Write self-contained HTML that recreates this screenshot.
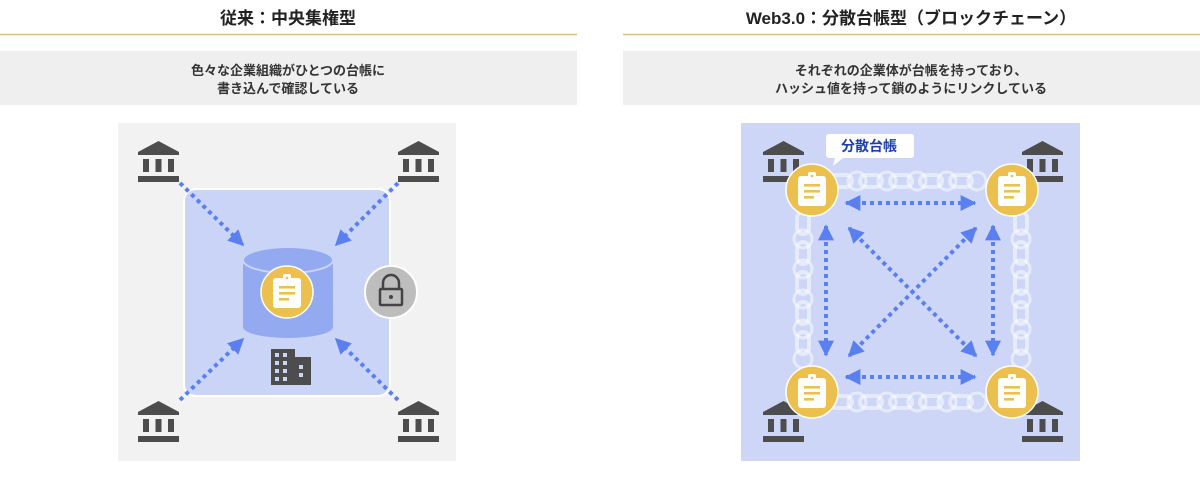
<!DOCTYPE html>
<html><head><meta charset="utf-8"><style>
html,body{margin:0;padding:0;background:#fff;}
body{width:1200px;height:482px;overflow:hidden;font-family:"Liberation Sans","Noto Sans CJK JP",sans-serif;}
</style></head><body>
<svg width="1200" height="482" viewBox="0 0 1200 482" xmlns="http://www.w3.org/2000/svg" font-family="Liberation Sans, Noto Sans CJK JP, sans-serif">
<defs>
<g id="bank">
<polygon points="20.5,0 41,11 41,14 0,14 0,11" fill="#4d4d4d"/>
<rect x="5" y="18" width="6" height="13" fill="#4d4d4d"/>
<rect x="17.5" y="18" width="6" height="13" fill="#4d4d4d"/>
<rect x="30" y="18" width="6" height="13" fill="#4d4d4d"/>
<rect x="0" y="35" width="41" height="6" fill="#4d4d4d"/>
</g>
<g id="doc">
<circle r="26" fill="#ebc04f" stroke="#fff" stroke-width="1.5"/>
<rect x="-14" y="-14" width="28" height="30" rx="3" fill="#fff"/>
<rect x="-4" y="-18" width="8" height="6" rx="2" fill="#fff"/>
<circle cx="0" cy="-14" r="1.3" fill="#ebc04f"/>
<rect x="-8" y="-6" width="16" height="2.6" fill="#ebc04f"/>
<rect x="-8" y="0" width="16" height="2.6" fill="#ebc04f"/>
<rect x="-8" y="6" width="10" height="2.6" fill="#ebc04f"/>
</g>
<marker id="ah" viewBox="0 0 10 10" refX="9" refY="5" markerWidth="4" markerHeight="4" orient="auto-start-reverse"><path d="M0,0 L10,5 L0,10 z" fill="#5a7ff0"/></marker>
<g id="link"><rect x="0" y="-6" width="22" height="12" rx="6" fill="none" stroke="#fff" stroke-opacity="0.5" stroke-width="4"/><circle cx="27" cy="0" r="9" fill="none" stroke="#fff" stroke-opacity="0.5" stroke-width="3"/></g>
<g id="vlink"><rect x="-6" y="0" width="12" height="22" rx="6" fill="none" stroke="#fff" stroke-opacity="0.5" stroke-width="4"/><circle cx="0" cy="27" r="9" fill="none" stroke="#fff" stroke-opacity="0.5" stroke-width="3"/></g>
</defs>

<text x="288" y="24" text-anchor="middle" font-size="17" font-weight="bold" fill="#222">従来：中央集権型</text>
<line x1="0" y1="34.5" x2="577" y2="34.5" stroke="#d9bf7f" stroke-width="1.5"/>
<text x="911" y="24" text-anchor="middle" font-size="17" font-weight="bold" fill="#222">Web3.0：分散台帳型（ブロックチェーン）</text>
<line x1="623" y1="34.5" x2="1200" y2="34.5" stroke="#d9bf7f" stroke-width="1.5"/>

<rect x="0" y="51" width="577" height="54" fill="#efefef"/>
<text x="288" y="75" text-anchor="middle" font-size="13" font-weight="bold" fill="#333">色々な企業組織がひとつの台帳に</text>
<text x="288" y="93" text-anchor="middle" font-size="13" font-weight="bold" fill="#333">書き込んで確認している</text>
<rect x="623" y="51" width="577" height="54" fill="#efefef"/>
<text x="911" y="75" text-anchor="middle" font-size="13" font-weight="bold" fill="#333">それぞれの企業体が台帳を持っており、</text>
<text x="911" y="93" text-anchor="middle" font-size="13" font-weight="bold" fill="#333">ハッシュ値を持って鎖のようにリンクしている</text>

<!-- LEFT -->
<rect x="118" y="123" width="338" height="338" fill="#f2f2f2"/>
<rect x="184" y="189" width="206" height="207" rx="12" fill="#c9d4f7" stroke="#fff" stroke-width="2"/>
<g stroke="#5a7ff0" stroke-width="4" stroke-dasharray="4 4" fill="none" marker-end="url(#ah)">
<line x1="180" y1="183" x2="243" y2="245"/>
<line x1="398" y1="183" x2="336" y2="245"/>
<line x1="180" y1="400" x2="243" y2="339"/>
<line x1="398" y1="400" x2="336" y2="339"/>
</g>
<rect x="243" y="260" width="90" height="67" fill="#93a9f0"/>
<ellipse cx="288" cy="327" rx="45" ry="11" fill="#93a9f0"/>
<ellipse cx="288" cy="260" rx="45" ry="13" fill="#93a9f0" stroke="#c9d4f7" stroke-width="2"/>
<use href="#doc" x="287" y="292"/>
<circle cx="391" cy="292" r="26" fill="#bdbdbd" stroke="#fff" stroke-width="2"/>
<path d="M383,289 v-6 a8,8 0 0 1 16,0 v6" fill="none" stroke="#444" stroke-width="2.5"/>
<rect x="380" y="289" width="22" height="16" rx="1" fill="none" stroke="#444" stroke-width="2.5"/>
<circle cx="391" cy="297" r="2" fill="#444"/>
<g fill="#4d4d4d">
<rect x="271" y="349" width="24" height="36"/>
<rect x="295" y="357" width="16" height="28"/>
</g>
<g fill="#c9d4f7">
<rect x="275" y="353" width="4" height="4"/><rect x="283" y="353" width="4" height="4"/>
<rect x="275" y="361" width="4" height="4"/><rect x="283" y="361" width="4" height="4"/>
<rect x="275" y="369" width="4" height="4"/><rect x="283" y="369" width="4" height="4"/>
<rect x="275" y="377" width="4" height="4"/><rect x="283" y="377" width="4" height="4"/>
<rect x="299" y="365" width="4" height="4"/><rect x="299" y="373" width="4" height="4"/>
</g>
<use href="#bank" x="138" y="141"/>
<use href="#bank" x="398" y="141"/>
<use href="#bank" x="138" y="401"/>
<use href="#bank" x="398" y="401"/>

<!-- RIGHT -->
<rect x="741" y="123" width="339" height="338" fill="#cdd6f7"/>
<use href="#bank" x="763" y="141"/>
<use href="#bank" x="1022" y="141"/>
<use href="#bank" x="763" y="401"/>
<use href="#bank" x="1022" y="401"/>
<g>
<use href="#link" x="830" y="181"/><use href="#link" x="860" y="181"/><use href="#link" x="890" y="181"/><use href="#link" x="920" y="181"/><use href="#link" x="950" y="181"/>
<use href="#link" x="830" y="402"/><use href="#link" x="860" y="402"/><use href="#link" x="890" y="402"/><use href="#link" x="920" y="402"/><use href="#link" x="950" y="402"/>
<use href="#vlink" x="803" y="212"/><use href="#vlink" x="803" y="242"/><use href="#vlink" x="803" y="272"/><use href="#vlink" x="803" y="302"/><use href="#vlink" x="803" y="332"/>
<use href="#vlink" x="1021" y="212"/><use href="#vlink" x="1021" y="242"/><use href="#vlink" x="1021" y="272"/><use href="#vlink" x="1021" y="302"/><use href="#vlink" x="1021" y="332"/>
</g>
<g stroke="#5a7ff0" stroke-width="4" stroke-dasharray="4 4" fill="none" marker-end="url(#ah)" marker-start="url(#ah)">
<line x1="846" y1="203" x2="975" y2="203"/>
<line x1="846" y1="377" x2="975" y2="377"/>
<line x1="826" y1="226" x2="826" y2="355"/>
<line x1="993" y1="226" x2="993" y2="355"/>
<line x1="849" y1="228" x2="976" y2="356"/>
<line x1="976" y1="228" x2="849" y2="356"/>
</g>
<use href="#doc" x="812" y="190"/>
<use href="#doc" x="1012" y="190"/>
<use href="#doc" x="812" y="392"/>
<use href="#doc" x="1012" y="392"/>
<path d="M829,134 h82 a3,3 0 0 1 3,3 v18 a3,3 0 0 1 -3,3 h-68 l-10,8 l2,-8 h-6 a3,3 0 0 1 -3,-3 v-18 a3,3 0 0 1 3,-3 z" fill="#fff"/>
<text x="869" y="151" text-anchor="middle" font-size="14" font-weight="bold" fill="#1f3fa8">分散台帳</text>
</svg>
</body></html>
